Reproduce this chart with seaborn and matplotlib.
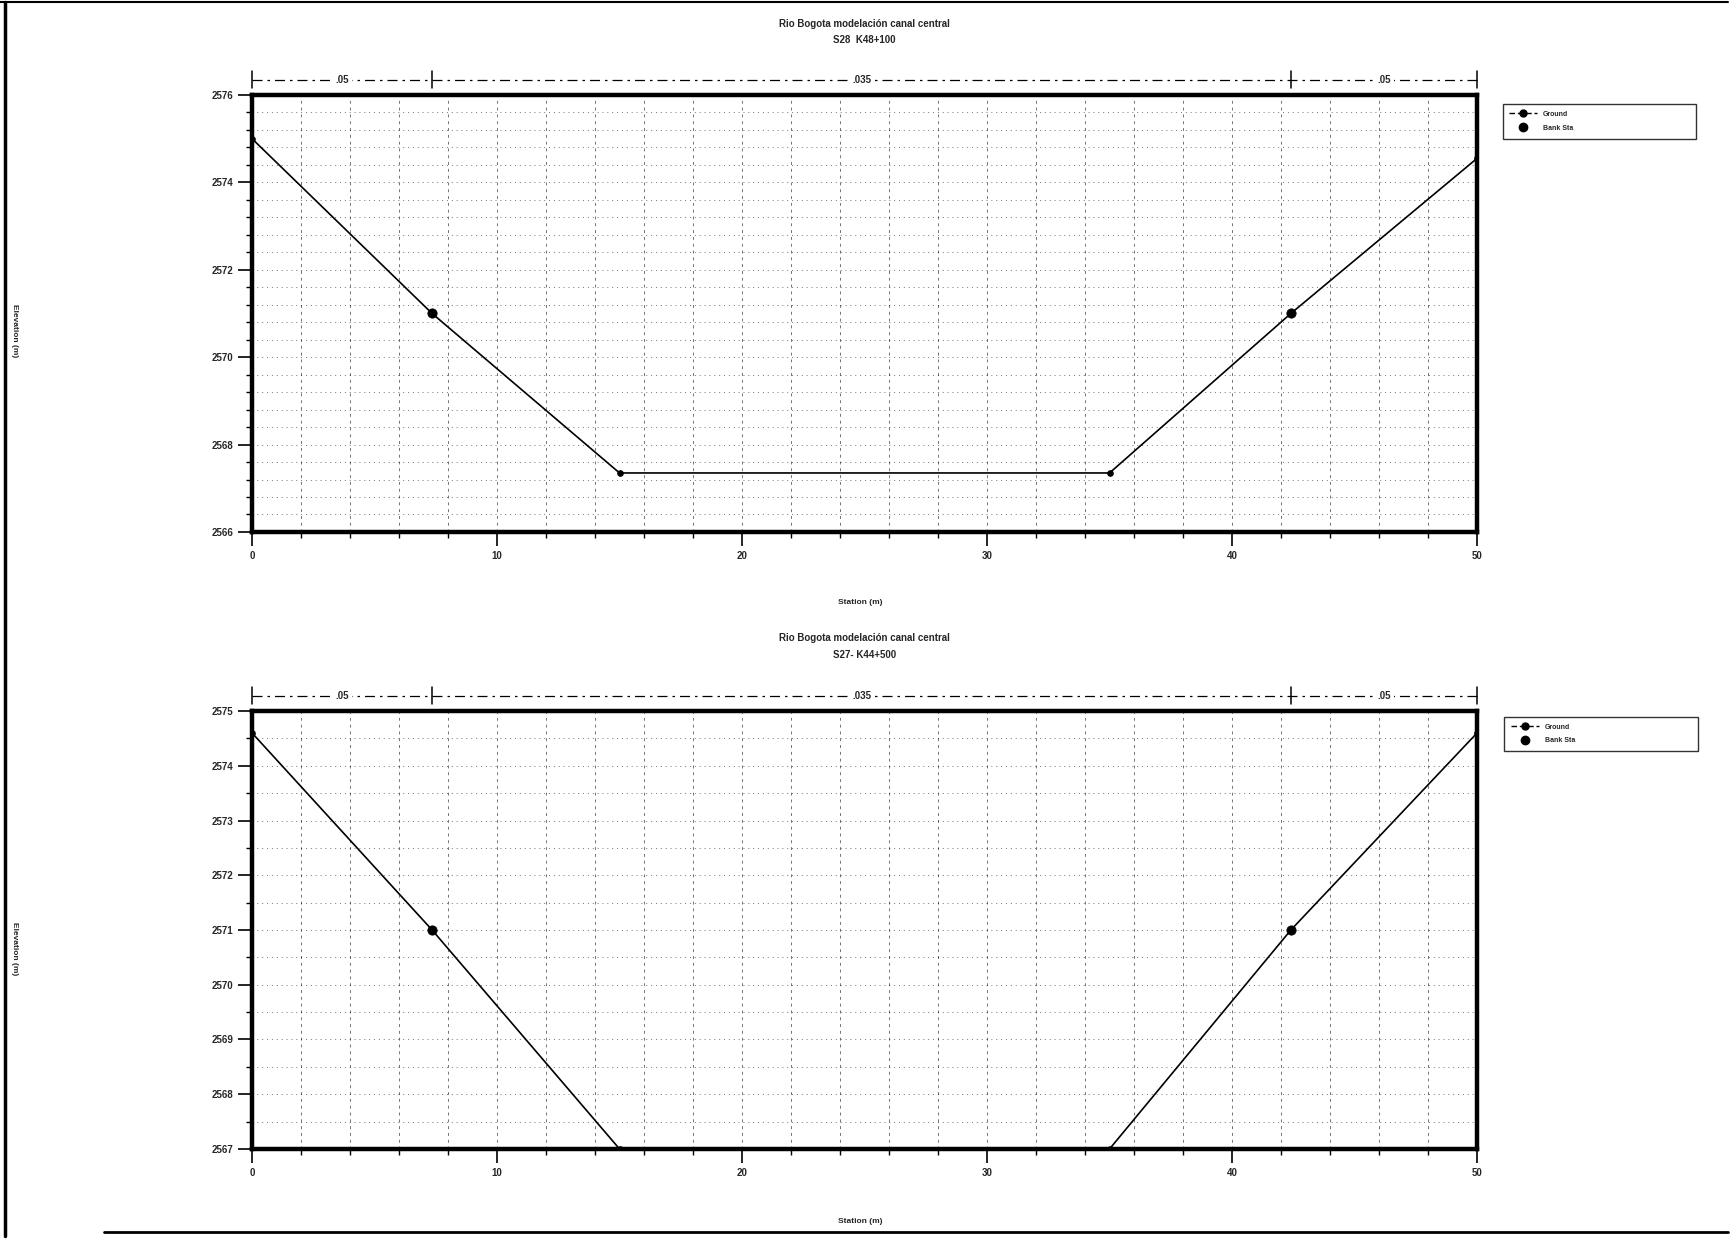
import matplotlib
matplotlib.use("Agg")
import matplotlib.pyplot as plt
import matplotlib.transforms as mtransforms
from matplotlib.lines import Line2D
from matplotlib.ticker import MultipleLocator
import seaborn as sns
import pandas as pd

sns.set_theme(style="white")
plt.rcParams['font.family'] = ['Liberation Sans', 'DejaVu Sans']

# ---------------- data ----------------
title_main = "Rio Bogota modelación canal central"
sections = ["S28  K48+100", "S27- K44+500"]

station_top = [0, 7.35, 15, 35, 42.4, 50]
elev_top = [2575.0, 2571.0, 2567.35, 2567.35, 2571.0, 2574.55]
bank_sta_top = [7.35, 42.4]
bank_elev_top = [2571.0, 2571.0]

station_bot = [0, 7.35, 15, 35, 42.4, 50]
elev_bot = [2574.6, 2571.0, 2567.0, 2567.0, 2571.0, 2574.6]
bank_sta_bot = [7.35, 42.4]
bank_elev_bot = [2571.0, 2571.0]

manning_n = [".05", ".035", ".05"]
manning_edges = [0, 7.35, 42.4, 50]

ylims = [(2566, 2576), (2567, 2575)]
ymajor = [2, 1]
yminor = [0.4, 0.5]
xticks = [0, 10, 20, 30, 40, 50]

# ---------------- figure ----------------
fig = plt.figure(figsize=(17.31, 12.42), dpi=100)
axes_rects = [
    [0.1456, 0.5717, 0.7077, 0.3518],
    [0.1456, 0.0749, 0.7077, 0.3526],
]
title_y = [(0.981, 0.968), (0.4863, 0.4726)]
xlabel_y = [0.5145, 0.0169]
ylabel_y = [0.7335, 0.236]
legend_rect = [(0.866, 0.883, 0.116, 0.039), (0.867, 0.390, 0.116, 0.038)]

datasets = [
    (station_top, elev_top, bank_sta_top, bank_elev_top),
    (station_bot, elev_bot, bank_sta_bot, bank_elev_bot),
]

for i, (st, el, bs, be) in enumerate(datasets):
    ax = fig.add_axes(axes_rects[i])
    df = pd.DataFrame({"Station (m)": st, "Elevation (m)": el})
    dfb = pd.DataFrame({"Station (m)": bs, "Elevation (m)": be})

    sns.lineplot(data=df, x="Station (m)", y="Elevation (m)", ax=ax,
                 color="black", linewidth=1.2, marker="o", markersize=4,
                 markeredgecolor="black", sort=False, zorder=4)
    sns.scatterplot(data=dfb, x="Station (m)", y="Elevation (m)", ax=ax,
                    color="black", s=45, edgecolor="black", zorder=5)

    ax.set_xlim(0, 50)
    ax.set_ylim(*ylims[i])
    ax.set_xticks(xticks)
    ax.xaxis.set_minor_locator(MultipleLocator(2))
    ax.yaxis.set_major_locator(MultipleLocator(ymajor[i]))
    ax.yaxis.set_minor_locator(MultipleLocator(yminor[i]))
    ax.set_xlabel("")
    ax.set_ylabel("")

    ax.grid(which="both", axis="x", color="black", linestyle=(0, (3, 4)),
            linewidth=0.7, alpha=0.55)
    ax.grid(which="both", axis="y", color="black", linestyle=(0, (1, 4)),
            linewidth=0.7, alpha=0.55)

    ax.tick_params(axis="both", which="major", direction="out", length=10,
                   width=1.2, labelsize=7, color="black", left=True, bottom=True)
    ax.tick_params(axis="both", which="minor", direction="out", length=4,
                   width=1.0, color="black", left=True, bottom=True)
    for lab in ax.get_xticklabels() + ax.get_yticklabels():
        lab.set_fontweight("bold")
    for sp in ax.spines.values():
        sp.set_visible(True)
        sp.set_color("black")
        sp.set_linewidth(3.2)

    # Manning's n bar above the plot
    trans = mtransforms.blended_transform_factory(ax.transData, ax.transAxes)
    ybar = 1.035
    ax.plot([manning_edges[0], manning_edges[-1]], [ybar, ybar], transform=trans,
            color="black", linewidth=0.9, linestyle=(0, (8, 4, 2, 4)), clip_on=False)
    for xe in manning_edges:
        ax.plot([xe, xe], [ybar - 0.02, ybar + 0.02], transform=trans,
                color="black", linewidth=1.1, clip_on=False)
    for k, n in enumerate(manning_n):
        xm = (manning_edges[k] + manning_edges[k + 1]) / 2
        ax.text(xm, ybar, n, transform=trans, ha="center", va="center",
                fontsize=7, fontweight="bold",
                bbox=dict(facecolor="white", edgecolor="none", pad=2.5))

    # titles and axis labels
    cx = axes_rects[i][0] + axes_rects[i][2] / 2
    fig.text(cx, title_y[i][0], title_main, ha="center", va="center",
             fontsize=7, fontweight="bold")
    fig.text(cx, title_y[i][1], sections[i], ha="center", va="center",
             fontsize=7, fontweight="bold")
    fig.text(0.497, xlabel_y[i], "Station (m)", ha="center", va="center",
             fontsize=6, fontweight="bold")
    fig.text(0.0085, ylabel_y[i], "Elevation (m)", ha="center", va="center",
             rotation=270, fontsize=6, fontweight="bold")

    # legend
    handles = [
        Line2D([0], [0], color="black", linewidth=1.0, linestyle=(0, (4, 2)),
               marker="o", markersize=5),
        Line2D([0], [0], color="black", linestyle="none", marker="o", markersize=6),
    ]
    leg = fig.legend(handles, ["Ground", "Bank Sta"], loc="center",
                     bbox_to_anchor=legend_rect[i], mode="expand", ncol=1,
                     fontsize=5, frameon=True, fancybox=False, borderpad=1.0,
                     labelspacing=1.0, handlelength=4.0)
    leg.get_frame().set_edgecolor("black")
    leg.get_frame().set_linewidth(1.0)
    for t in leg.get_texts():
        t.set_fontweight("bold")

# page border lines from the scan
fig.add_artist(Line2D([0.003, 0.003], [0.005, 0.998], color="black", linewidth=2.5,
                      transform=fig.transFigure))
fig.add_artist(Line2D([0.06, 0.998], [0.008, 0.008], color="black", linewidth=2.0,
                      transform=fig.transFigure))
fig.add_artist(Line2D([0.0, 0.998], [0.998, 0.998], color="black", linewidth=1.5,
                      transform=fig.transFigure))

fig.savefig("out.png", dpi=100, facecolor="white")
